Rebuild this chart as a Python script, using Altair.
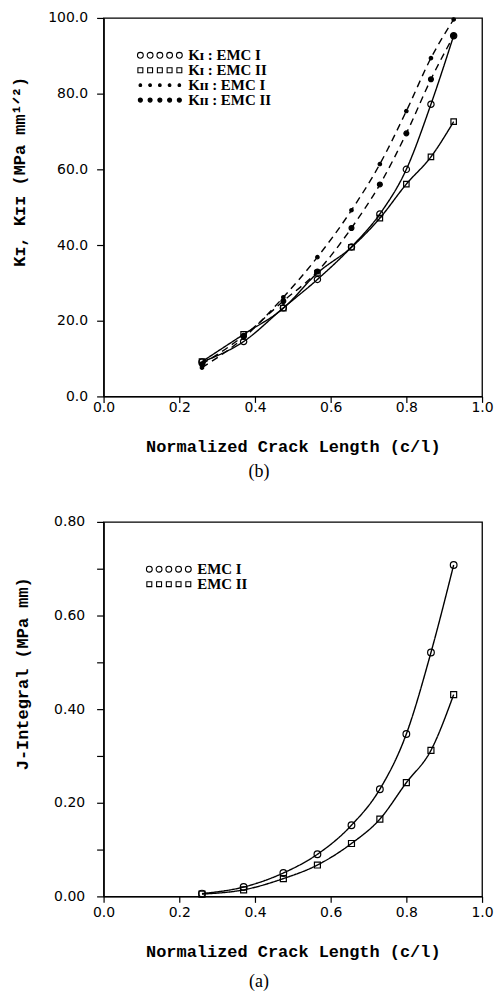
import altair as alt
import pandas as pd

# ---------------- data ----------------
crack = [0.26, 0.37, 0.475, 0.565, 0.655, 0.73, 0.80, 0.865, 0.925]

k1_emc1 = [9.1, 14.5, 23.4, 30.9, 39.5, 48.2, 60.0, 77.2, 95.3]
k1_emc2 = [9.2, 16.4, 23.3, 32.6, 39.4, 47.1, 56.1, 63.3, 72.6]
k2_emc1 = [7.6, 15.5, 26.2, 36.8, 49.2, 61.4, 75.4, 89.4, 99.6]
k2_emc2 = [8.5, 16.0, 25.2, 33.0, 44.5, 56.0, 69.5, 83.8, 95.3]

j_emc1 = [0.006, 0.020, 0.050, 0.090, 0.152, 0.229, 0.347, 0.521, 0.708]
j_emc2 = [0.005, 0.014, 0.038, 0.067, 0.113, 0.165, 0.243, 0.312, 0.431]

top_series = ["K\u026a : EMC I", "K\u026a : EMC II", "K\u026a\u026a : EMC I", "K\u026a\u026a : EMC II"]
bottom_series = ["EMC I", "EMC II"]

x_ticks = [0.0, 0.1, 0.2, 0.3, 0.4, 0.5, 0.6, 0.7, 0.8, 0.9, 1.0]
k_ticks = [0, 10, 20, 30, 40, 50, 60, 70, 80, 90, 100]
j_ticks = [0.0, 0.1, 0.2, 0.3, 0.4, 0.5, 0.6, 0.7, 0.8]

# ---------------- helpers (style only) ----------------
def row_symbol(kind, r):
    """SVG path: a row of five small markers, used as a legend swatch."""
    parts = []
    for c in [-0.87, -0.435, 0.0, 0.435, 0.87]:
        if kind == "circle":
            parts.append(f"M{c - r:.3f},0a{r},{r} 0 1,0 {2 * r:.3f},0a{r},{r} 0 1,0 {-2 * r:.3f},0")
        else:
            parts.append(f"M{c - r:.3f},{-r:.3f}h{2 * r:.3f}v{2 * r:.3f}h{-2 * r:.3f}z")
    return "".join(parts)


def long_table(series_names, columns):
    rows = []
    for name, vals in zip(series_names, columns):
        for xv, yv in zip(crack, vals):
            rows.append({"x": xv, "value": yv, "series": name})
    return pd.DataFrame(rows)


LABEL_FONT = "DejaVu Sans"
TITLE_FONT = "Liberation Mono"
SERIF = "Liberation Serif"


def make_panel(df, series, y_domain, y_values, y_fmt, y_title, title_x, title_y,
               label_pad, x_label_pad, x_title_pad, shapes, fills, sizes, dashes,
               legend_rows, legend_x, legend_y, width, height, caption, caption_offset):
    xenc = alt.X(
        "x:Q",
        scale=alt.Scale(domain=[0, 1]),
        axis=alt.Axis(
            values=x_ticks,
            labelExpr="round(datum.value*10)%2==0 ? format(datum.value,'.1f') : ''",
            title="Normalized Crack Length (c/l)",
            tickSize=6,
            labelPadding=x_label_pad,
            titlePadding=x_title_pad,
            labelOverlap=False,
            labelFlush=False,
        ),
    )
    mult = 10 if y_fmt == ".2f" else 0.1
    yenc = alt.Y(
        "value:Q",
        scale=alt.Scale(domain=y_domain),
        axis=alt.Axis(
            values=y_values,
            labelExpr=f"round(datum.value*{mult})%2==0 ? format(datum.value,'{y_fmt}') : ''",
            title=y_title,
            titleX=title_x,
            titleY=title_y,
            titleAlign="center",
            titleBaseline="middle",
            titleAngle=-90,
            tickSize=7,
            labelPadding=label_pad,
            labelOverlap=False,
            labelFlush=False,
        ),
    )

    lines = alt.Chart(df).mark_line(interpolate="monotone", color="black", strokeWidth=1.4).encode(
        x=xenc,
        y=yenc,
        strokeDash=alt.StrokeDash("series:N", scale=alt.Scale(domain=series, range=dashes), legend=None),
    )

    pts = alt.Chart(df).mark_point(filled=True, stroke="black", strokeWidth=1.2, opacity=1).encode(
        x="x:Q",
        y="value:Q",
        shape=alt.Shape("series:N", scale=alt.Scale(domain=series, range=shapes), legend=None),
        fill=alt.Fill("series:N", scale=alt.Scale(domain=series, range=fills), legend=None),
        size=alt.Size("series:N", scale=alt.Scale(type="ordinal", domain=series, range=sizes), legend=None),
    )

    leg = alt.Legend(
        title=None,
        orient="none",
        legendX=legend_x,
        legendY=legend_y,
        symbolSize=2025,
        symbolOpacity=1,
        symbolStrokeWidth=1.1,
        clipHeight=13,
        labelFont=SERIF,
        labelFontSize=15,
        labelFontWeight="bold",
        labelColor="black",
        labelOffset=5,
        rowPadding=-2,
    )
    legend_layer = alt.Chart(df).mark_point(filled=True, strokeWidth=1.1, opacity=0).encode(
        x="x:Q",
        y="value:Q",
        shape=alt.Shape("series:N", scale=alt.Scale(domain=series, range=legend_rows), legend=leg),
        fill=alt.Fill("series:N", scale=alt.Scale(domain=series, range=fills), legend=leg),
        stroke=alt.Stroke("series:N", scale=alt.Scale(domain=series, range=["black"] * len(series)), legend=leg),
    )

    return (
        alt.layer(lines, pts, legend_layer)
        .resolve_scale(shape="independent", fill="independent", size="independent",
                       strokeDash="independent", stroke="independent")
        .properties(
            width=width,
            height=height,
            title=alt.TitleParams(
                caption,
                orient="bottom",
                anchor="middle",
                font=SERIF,
                fontSize=18,
                fontWeight="normal",
                color="black",
                dx=-34,
                offset=caption_offset,
            ),
        )
    )


top_df = long_table(top_series, [k1_emc1, k1_emc2, k2_emc1, k2_emc2])
bottom_df = long_table(bottom_series, [j_emc1, j_emc2])

top = make_panel(
    top_df, top_series, [0, 100], k_ticks, ".1f",
    "K\u026a, K\u026a\u026a (MPa mm\u00b9\u141f\u00b2)", -84, 154, 9, -2, 24,
    ["circle", "square", "circle", "circle"],
    ["transparent", "transparent", "black", "black"],
    [40, 30, 12, 24],
    [[1, 0], [1, 0], [7, 5], [7, 5]],
    [row_symbol("circle", 0.13), row_symbol("square", 0.11), row_symbol("circle", 0.06), row_symbol("circle", 0.09)],
    33, 31, 380, 380, "(b)", 9,
)

bottom = make_panel(
    bottom_df, bottom_series, [0, 0.8], j_ticks, ".2f",
    "J-Integral (MPa mm)", -81, 152, 12, 3, 24,
    ["circle", "square"],
    ["transparent", "transparent"],
    [45, 36],
    [[1, 0], [1, 0]],
    [row_symbol("circle", 0.13), row_symbol("square", 0.11)],
    42, 41, 380, 376, "(a)", 14,
)

chart = (
    alt.vconcat(top, bottom, spacing=32)
    .properties(padding={"left": 10, "top": 8, "right": 0, "bottom": 0}, background="white")
    .configure_view(stroke="black", strokeWidth=1.3)
    .configure_axis(
        grid=False,
        domainColor="black",
        domainWidth=1.4,
        tickColor="black",
        tickWidth=1.2,
        labelFont=LABEL_FONT,
        labelFontSize=14,
        labelColor="black",
        titleFont=TITLE_FONT,
        titleFontSize=17,
        titleFontWeight="bold",
        titleColor="black",
    )
)

chart.save("out.html", embed_options={"renderer": "svg", "actions": False})
